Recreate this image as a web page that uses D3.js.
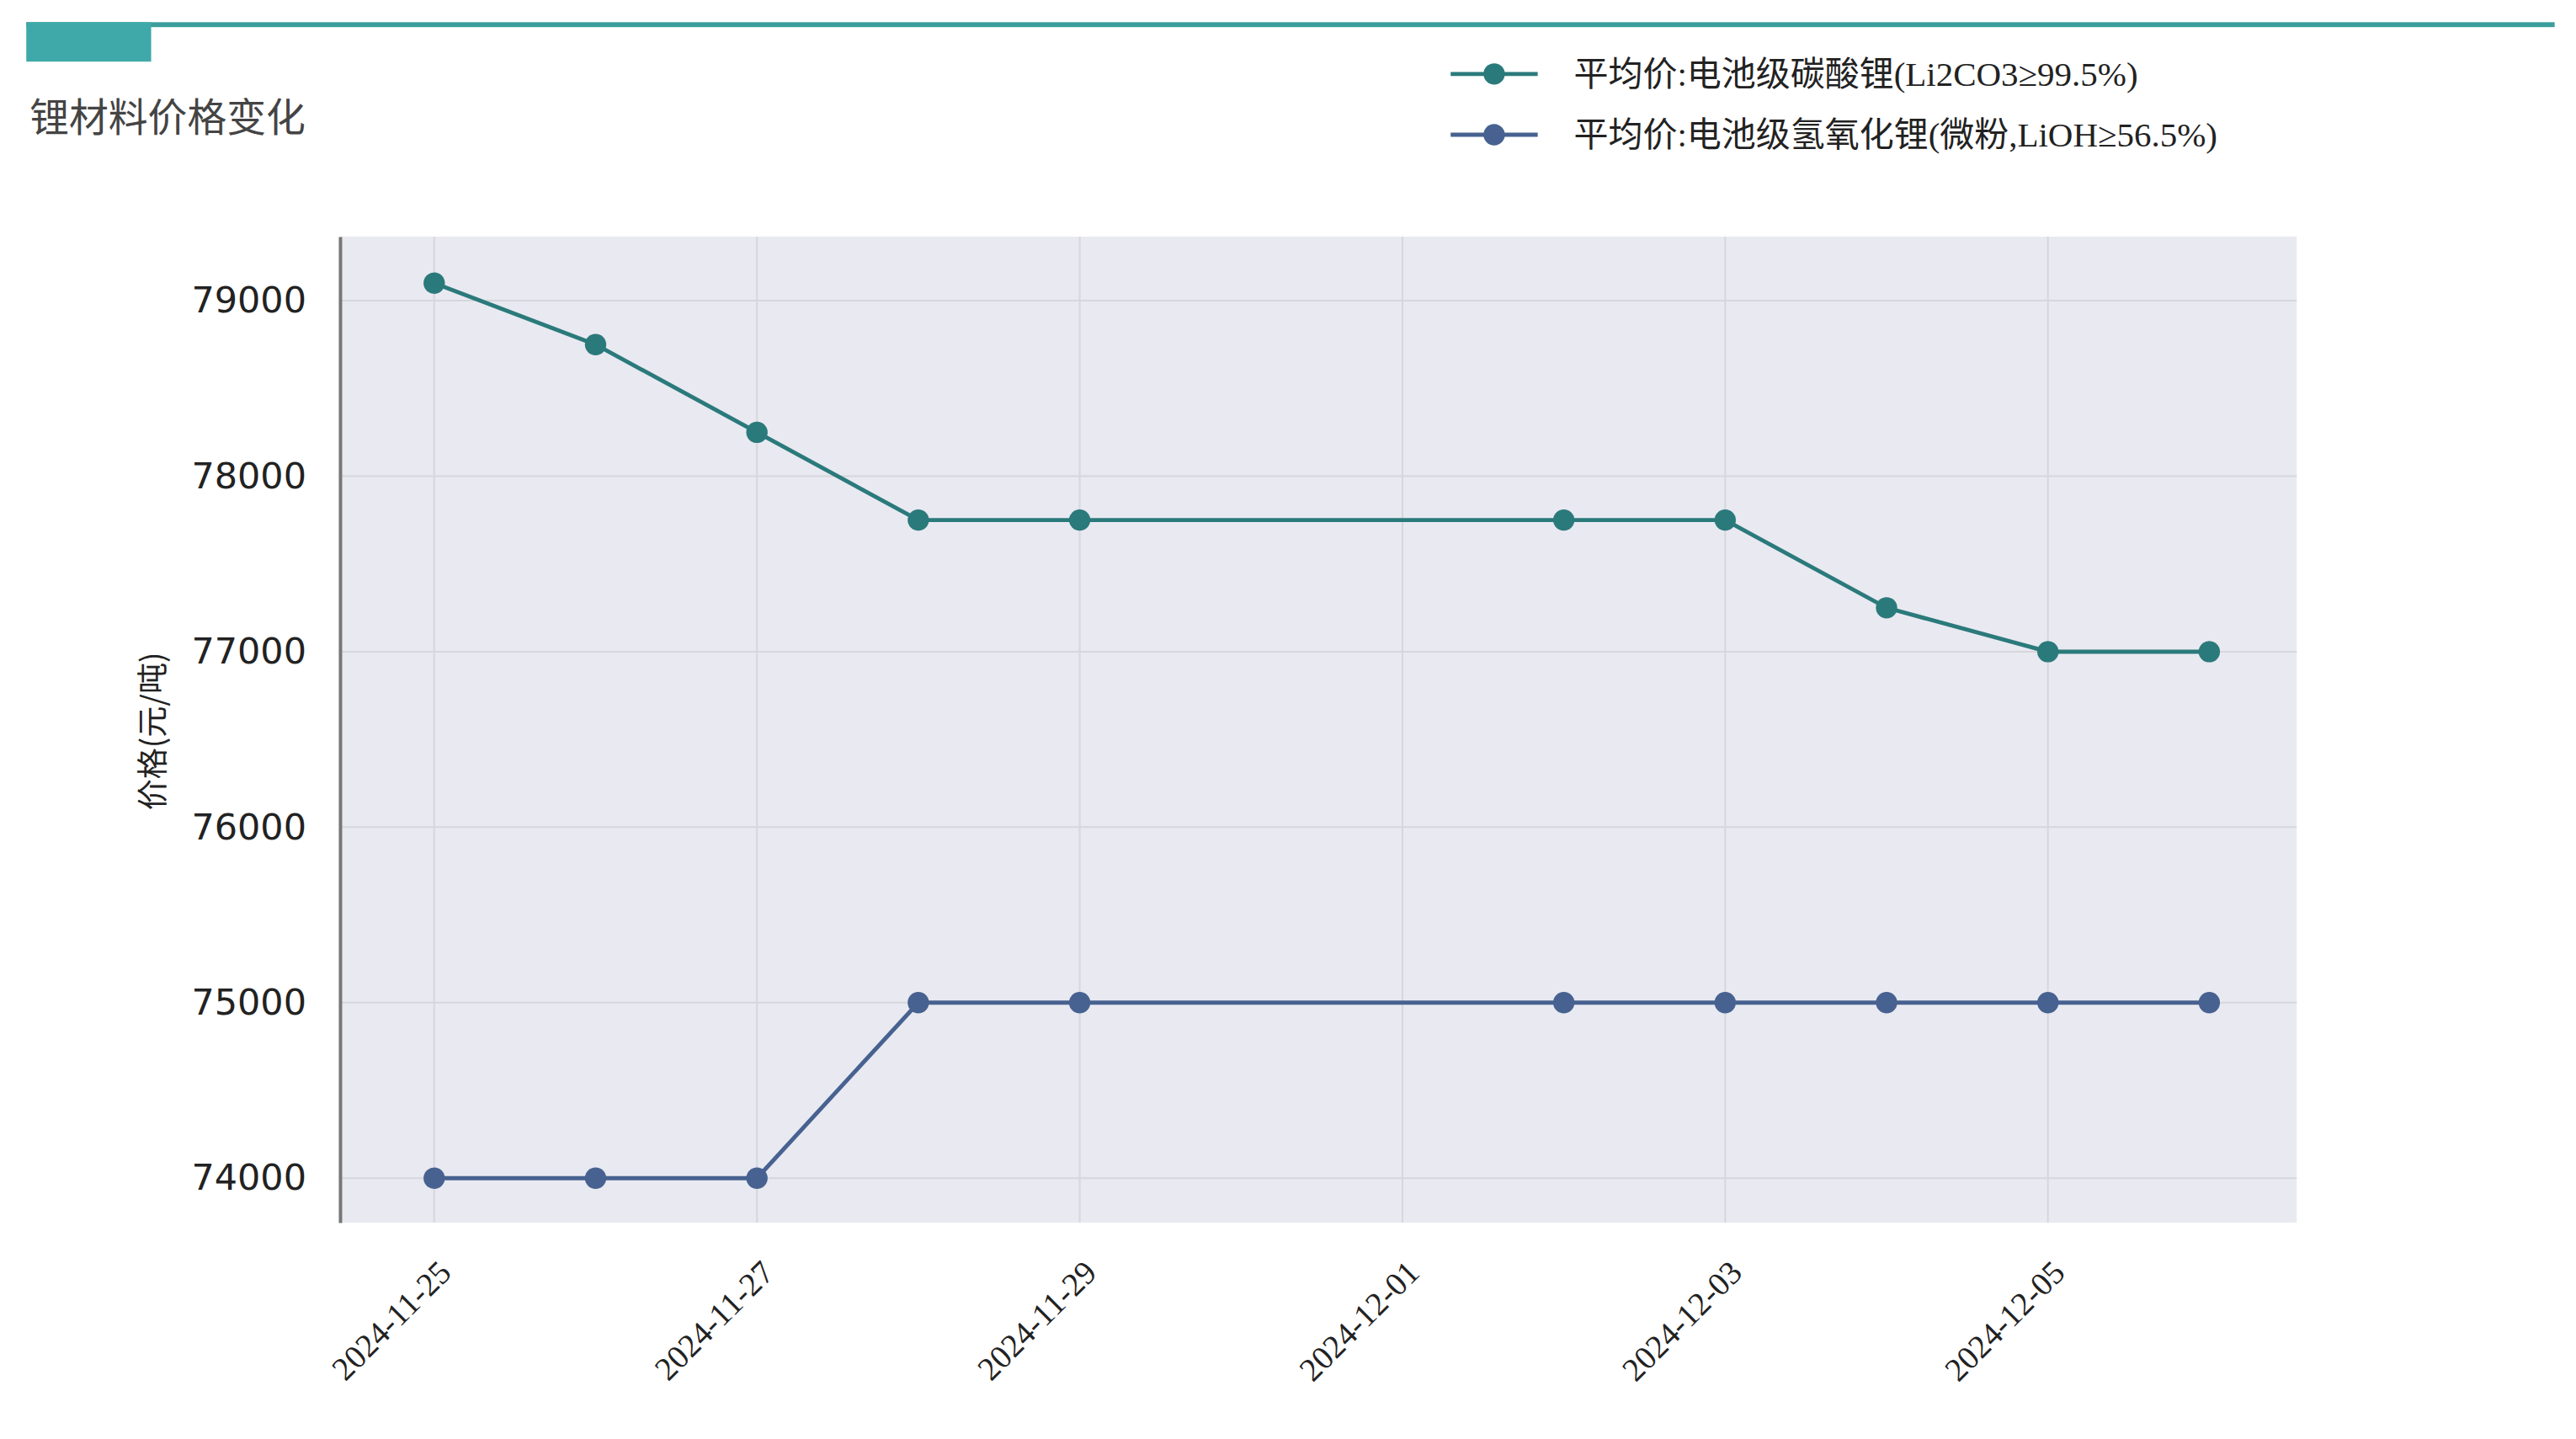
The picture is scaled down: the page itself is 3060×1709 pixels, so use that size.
<!DOCTYPE html>
<html><head><meta charset="utf-8">
<script src="https://cdn.jsdelivr.net/npm/d3@7"></script>
<style>body{margin:0;background:#fff}</style>
</head><body><svg id="c" width="3060" height="1709"></svg>
<script>
const dates = ['2024-11-25','2024-11-26','2024-11-27','2024-11-28','2024-11-29','2024-12-02','2024-12-03','2024-12-04','2024-12-05','2024-12-06'];
const carbonate = [79100,78750,78250,77750,77750,77750,77750,77250,77000,77000];
const hydroxide = [74000,74000,74000,75000,75000,75000,75000,75000,75000,75000];
const yTicks = [74000,75000,76000,77000,78000,79000];
const xTickLabels = ['2024-11-25','2024-11-27','2024-11-29','2024-12-01','2024-12-03','2024-12-05'];
const seriesNames = ['平均价:电池级碳酸锂(Li2CO3≥99.5%)','平均价:电池级氢氧化锂(微粉,LiOH≥56.5%)'];
const colors = ['#2b7a7b','#476290'];

const k = 3060/1568;
const svg = d3.select('#c');
const parse = d3.utcParse('%Y-%m-%d');
const pLeft = 207*k, pRight = 1398*k, pTop = 144*k, pBottom = 744*k;

// header
svg.append('rect').attr('x',16*k).attr('y',13.5*k).attr('width',1539*k).attr('height',3*k).attr('fill','#3a9e9c');
svg.append('rect').attr('x',16*k).attr('y',13.5*k).attr('width',76*k).attr('height',24*k).attr('fill','#3fa9a9');
svg.append('text').attr('x',18*k).attr('y',80*k).attr('font-family','Noto Sans CJK SC').attr('font-size',24*k).attr('fill','#444').text('锂材料价格变化');

const x = d3.scaleUtc().domain([d3.utcHour.offset(parse('2024-11-25'),-13.5), d3.utcHour.offset(parse('2024-12-06'),13.2)]).range([pLeft,pRight]);
const y = d3.scaleLinear().domain([73747,79365]).range([pBottom,pTop]);

svg.append('rect').attr('x',pLeft).attr('y',pTop).attr('width',pRight-pLeft).attr('height',pBottom-pTop).attr('fill','#e9e9f1');
const g = svg.append('g');
g.selectAll('.vg').data(xTickLabels).join('line').attr('x1',d=>x(parse(d))).attr('x2',d=>x(parse(d))).attr('y1',pTop).attr('y2',pBottom).attr('stroke','#d6d6dc').attr('stroke-width',2);
g.selectAll('.hg').data(yTicks).join('line').attr('x1',pLeft).attr('x2',pRight).attr('y1',d=>y(d)).attr('y2',d=>y(d)).attr('stroke','#d6d6dc').attr('stroke-width',2);

const yAxis = svg.append('g').attr('transform',`translate(${pLeft},0)`)
  .call(d3.axisLeft(y).tickValues(yTicks).tickFormat(d3.format('d')).tickSize(0).tickPadding(40));
yAxis.select('.domain').attr('stroke','#777').attr('stroke-width',4);
yAxis.selectAll('text').attr('font-family','DejaVu Sans').attr('font-size',22*k).attr('fill','#222');

const xAxis = svg.append('g').attr('transform',`translate(0,${pBottom})`)
  .call(d3.axisBottom(x).tickValues(xTickLabels.map(parse)).tickFormat(d3.utcFormat('%Y-%m-%d')).tickSize(0));
xAxis.select('.domain').remove();
xAxis.selectAll('text').attr('font-family','Liberation Serif').attr('font-size',20*k).attr('fill','#222')
  .attr('text-anchor','end').attr('dy','0.35em').attr('transform','translate(10,50) rotate(-45)');

svg.append('text').attr('transform',`translate(${100*k},${445*k}) rotate(-90)`).attr('text-anchor','middle')
  .attr('font-family','Noto Sans CJK SC').attr('font-size',19*k).attr('fill','#222').text('价格(元/吨)');

[carbonate,hydroxide].forEach((vals,i)=>{
  const pts = dates.map((d,j)=>[x(parse(d)),y(vals[j])]);
  svg.append('path').attr('d',d3.line()(pts)).attr('fill','none').attr('stroke',colors[i]).attr('stroke-width',2.5*k);
  svg.selectAll(null).data(pts).join('circle').attr('cx',p=>p[0]).attr('cy',p=>p[1]).attr('r',6.5*k).attr('fill',colors[i]);
});

// legend
seriesNames.forEach((n,i)=>{
  const ly = (45+37*i)*k;
  svg.append('line').attr('x1',883*k).attr('x2',936*k).attr('y1',ly).attr('y2',ly).attr('stroke',colors[i]).attr('stroke-width',2.5*k);
  svg.append('circle').attr('cx',909.5*k).attr('cy',ly).attr('r',6.5*k).attr('fill',colors[i]);
  svg.append('text').attr('x',958*k).attr('y',ly).attr('dy','0.35em').attr('font-family','Liberation Serif, Noto Sans CJK SC').attr('font-size',21*k).attr('fill','#222').text(n);
});
</script></body></html>
